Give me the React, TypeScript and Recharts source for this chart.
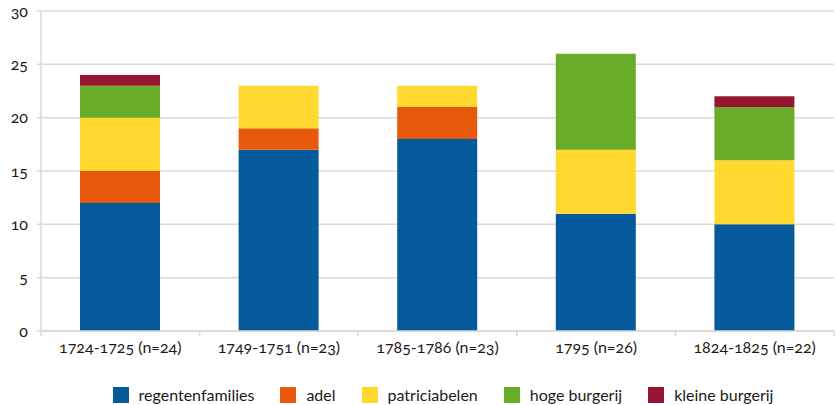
import { BarChart, Bar, XAxis, YAxis, CartesianGrid, Legend } from 'recharts'

const periods = ['1724-1725 (n=24)', '1749-1751 (n=23)', '1785-1786 (n=23)', '1795 (n=26)', '1824-1825 (n=22)']
const regentenfamilies = [12, 17, 18, 11, 10]
const adel = [3, 2, 3, 0, 0]
const patriciabelen = [5, 4, 2, 6, 6]
const hogeBurgerij = [3, 0, 0, 9, 5]
const kleineBurgerij = [1, 0, 0, 0, 1]
const yTicks = [0, 5, 10, 15, 20, 25, 30]

const SERIES = [
  { key: 'regentenfamilies', label: 'regentenfamilies', color: '#045a9a', values: regentenfamilies },
  { key: 'adel', label: 'adel', color: '#e85a0b', values: adel },
  { key: 'patriciabelen', label: 'patriciabelen', color: '#ffd92f', values: patriciabelen },
  { key: 'hoge', label: 'hoge burgerij', color: '#6aab2a', values: hogeBurgerij },
  { key: 'kleine', label: 'kleine burgerij', color: '#95172f', values: kleineBurgerij },
]

const data = periods.map((name, i) => {
  const row: Record<string, string | number> = { name }
  SERIES.forEach(s => { row[s.key] = s.values[i] })
  return row
})

const FONT = "Lato, 'Open Sans', sans-serif"
const GRID = '#d9d9d9'
const HALF_BAND = 79.3

// x tick: label + tick marks on the category boundaries
function XTick({ x, y, payload, index }: any) {
  const last = index === periods.length - 1
  return (
    <g>
      <line x1={x - HALF_BAND} x2={x - HALF_BAND} y1={y - 8} y2={y - 3} stroke={GRID} strokeWidth={1.5} />
      {last && <line x1={x + HALF_BAND} x2={x + HALF_BAND} y1={y - 8} y2={y - 3} stroke={GRID} strokeWidth={1.5} />}
      <text x={x} y={y + 14} textAnchor="middle" fill="#1a1a1a" fontFamily={FONT} fontSize={16}
        style={{ fontVariantNumeric: 'oldstyle-nums' }}>
        {payload.value}
      </text>
    </g>
  )
}

function LegendContent() {
  return (
    <div style={{ display: 'flex', justifyContent: 'center', gap: 26, paddingTop: 24, paddingLeft: 52, fontFamily: FONT }}>
      {SERIES.map(s => (
        <div key={s.key} style={{ display: 'flex', alignItems: 'center', gap: 10 }}>
          <span style={{ width: 16, height: 16, background: s.color, display: 'inline-block' }} />
          <span style={{ fontSize: 16, color: '#1a1a1a' }}>{s.label}</span>
        </div>
      ))}
    </div>
  )
}

export default function App() {
  return (
    <div style={{ position: 'absolute', left: 0, top: 0, background: '#fff' }}>
      <BarChart width={836} height={405} data={data} barSize={80}
        margin={{ top: 11, right: 2, bottom: 0, left: 0 }}>
        <CartesianGrid vertical={false} stroke={GRID} strokeWidth={1.5} />
        <XAxis dataKey="name" height={30} tick={<XTick />} tickLine={false}
          axisLine={{ stroke: GRID, strokeWidth: 1.5 }} interval={0} />
        <YAxis width={41} domain={[0, 30]} ticks={yTicks} tickSize={4} tickMargin={9}
          tickLine={{ stroke: GRID, strokeWidth: 1.5 }} axisLine={{ stroke: GRID, strokeWidth: 1.5 }}
          tick={{ fontFamily: FONT, fontSize: 16, fill: '#1a1a1a', style: { fontVariantNumeric: 'oldstyle-nums' } }} />
        <Legend verticalAlign="bottom" height={44} content={<LegendContent />} />
        {SERIES.map(s => (
          <Bar key={s.key} dataKey={s.key} name={s.label} stackId="a" fill={s.color} isAnimationActive={false} />
        ))}
      </BarChart>
    </div>
  )
}
